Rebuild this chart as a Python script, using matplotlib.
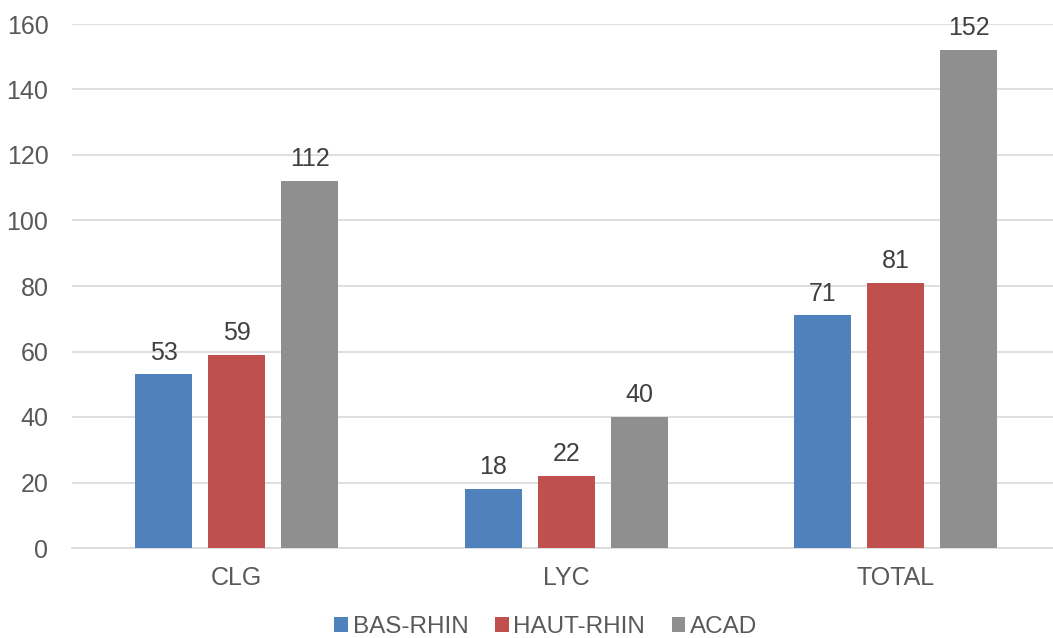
import matplotlib
matplotlib.use("Agg")
import matplotlib.pyplot as plt
import numpy as np

categories = ["CLG", "LYC", "TOTAL"]
series_names = ["BAS-RHIN", "HAUT-RHIN", "ACAD"]
bas_rhin = [53, 18, 71]
haut_rhin = [59, 22, 81]
acad = [112, 40, 152]
yticks = [0, 20, 40, 60, 80, 100, 120, 140, 160]

colors = ["#4f81bd", "#c0504d", "#8f8f8f"]
text_color = "#595959"

plt.rcParams['font.family'] = ['Liberation Sans', 'DejaVu Sans']

W, H = 1053, 638
fig = plt.figure(figsize=(W/100, H/100), dpi=100)
left, right, top, bottom = 72, 1053, 24, 548
ax = fig.add_axes([left/W, 1-bottom/H, (right-left)/W, (bottom-top)/H])

x = np.arange(len(categories))
bw = 0.173
step = 0.2215
for i, (vals, name) in enumerate(zip([bas_rhin, haut_rhin, acad], series_names)):
    pos = x + (i-1)*step
    ax.bar(pos, vals, width=bw, color=colors[i], label=name, zorder=3)
    for p, v in zip(pos, vals):
        ax.annotate(str(v), (p, v), xytext=(0, 7), textcoords="offset points",
                    ha="center", va="bottom", fontsize=18, color="#404040")

ax.set_xlim(-0.5, -0.5 + (right-left)/329.5)
ax.set_ylim(0, 160)
ax.set_yticks(yticks)
ax.set_xticks(x)
ax.set_xticklabels(categories)
ax.tick_params(axis='both', length=0, labelsize=18, colors=text_color)
ax.tick_params(axis='y', pad=17)
ax.tick_params(axis='x', pad=13)
ax.grid(axis='y', color="#d9d9d9", linewidth=1.2, zorder=0)
for s in ["top", "right", "left"]:
    ax.spines[s].set_visible(False)
ax.spines["bottom"].set_color("#d9d9d9")
ax.spines["bottom"].set_linewidth(1.2)

leg = fig.legend(loc="center", bbox_to_anchor=(546/W, 1-627/H), ncol=3, frameon=False,
                 fontsize=17.5, handlelength=0.55, handleheight=0.55, handletextpad=0.2,
                 columnspacing=1.1)
for t in leg.get_texts():
    t.set_color(text_color)

fig.savefig("out.png", dpi=100)
